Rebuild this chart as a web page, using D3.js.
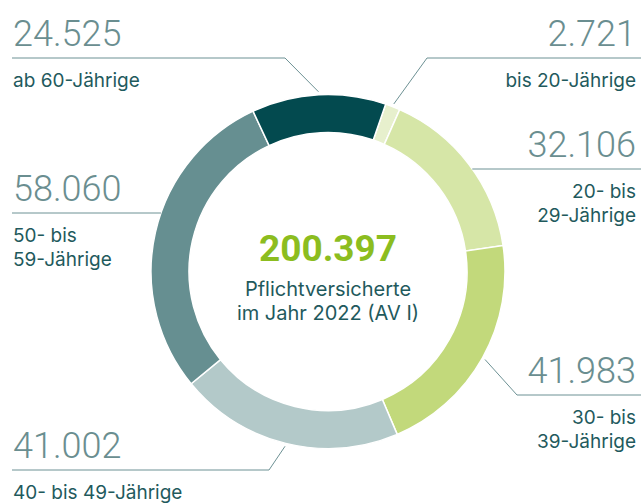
<!DOCTYPE html>
<html>
<head>
<meta charset="utf-8">
<script src="https://cdn.jsdelivr.net/npm/d3@7"></script>
<style>
  body { margin: 0; background: #fff; }
  svg { display: block; font-family: Roboto, "Noto Sans", sans-serif; }
  .lbl { font-family: Inter, Roboto, sans-serif; }
</style>
</head>
<body>
<div class="canva"></div>
<script>
// data
const groups = ["bis 20", "20-29", "30-39", "40-49", "50-59", "ab 60"];
const values = [2721, 32106, 41983, 41002, 58060, 24525];
const valueLabels = ["2.721", "32.106", "41.983", "41.002", "58.060", "24.525"];
const groupLabels = [
  ["bis 20-Jährige"],
  ["20- bis", "29-Jährige"],
  ["30- bis", "39-Jährige"],
  ["40- bis 49-Jährige"],
  ["50- bis", "59-Jährige"],
  ["ab 60-Jährige"]
];
const totalLabel = "200.397";
const centerLines = ["Pflichtversicherte", "im Jahr 2022 (AV I)"];

// layout of the labels (line y, elbow x, side)
const layout = [
  {side: "right", lineY: 58,  elbow: 427},
  {side: "right", lineY: 169, elbow: null},
  {side: "right", lineY: 395, elbow: 517},
  {side: "left",  lineY: 470, elbow: 269},
  {side: "left",  lineY: 213, elbow: null},
  {side: "left",  lineY: 58,  elbow: 285}
];

const width = 641, height = 503;
const cx = 328, cy = 271.5;
const outerR = 177, innerR = 139;

const colors = d3.scaleOrdinal()
  .domain(groups)
  .range(["#e7f0cd", "#d6e6a7", "#c2d97b", "#b3c9c9", "#668f91", "#034a4f"]);

const svg = d3.select(".canva").append("svg")
  .attr("width", width)
  .attr("height", height);

const pie = d3.pie()
  .sort(null)
  .value(d => d)
  .startAngle(19 * Math.PI / 180)
  .endAngle(19 * Math.PI / 180 + 2 * Math.PI);

const arcs = pie(values);

const arcPath = d3.arc()
  .innerRadius(innerR)
  .outerRadius(outerR);

// point on the circle at the slice's middle, a bit outside
const leaderArc = d3.arc()
  .innerRadius(180)
  .outerRadius(180);

const donut = svg.append("g")
  .attr("transform", `translate(${cx},${cy})`);

donut.selectAll("path")
  .data(arcs)
  .enter()
  .append("path")
  .attr("d", arcPath)
  .attr("fill", (d, i) => colors(groups[i]))
  .attr("stroke", "#fff")
  .attr("stroke-width", 1.5);

// center text
donut.append("text")
  .attr("text-anchor", "middle")
  .attr("y", -11)
  .attr("fill", "#8cbd1f")
  .attr("font-size", 37)
  .attr("font-weight", 700)
  .text(totalLabel);

donut.selectAll(".center-line")
  .data(centerLines)
  .enter()
  .append("text")
  .attr("class", "center-line lbl")
  .attr("text-anchor", "middle")
  .attr("y", (d, i) => 24.5 + i * 24)
  .attr("fill", "#1f5a5d")
  .attr("font-size", 20)
  .text(d => d);

// labels + leader lines
const lineColor = "#6d9194";
const leftX = 12, rightX = 636;

arcs.forEach((a, i) => {
  const L = layout[i];
  let end;
  if (L.elbow !== null) {
    const c = leaderArc.centroid(a);
    end = [c[0] + cx, c[1] + cy];
  } else {
    const dy = L.lineY - cy;
    const dx = Math.sqrt(outerR * outerR - dy * dy);
    end = [L.side === "left" ? cx - dx : cx + dx, L.lineY];
  }
  const startX = L.side === "left" ? leftX : width;
  const pts = [[startX, L.lineY]];
  if (L.elbow !== null) pts.push([L.elbow, L.lineY]);
  pts.push(end);

  svg.append("path")
    .attr("d", d3.line()(pts))
    .attr("fill", "none")
    .attr("stroke", lineColor)
    .attr("stroke-width", 1);

  const tx = L.side === "left" ? leftX + 1 : rightX;
  const anchor = L.side === "left" ? "start" : "end";

  svg.append("text")
    .attr("x", tx)
    .attr("y", L.lineY - 12.5)
    .attr("text-anchor", anchor)
    .attr("fill", "#6a8e90")
    .attr("font-size", 36)
    .attr("font-weight", 300)
    .text(valueLabels[i]);

  svg.selectAll(null)
    .data(groupLabels[i])
    .enter()
    .append("text")
    .attr("class", "lbl")
    .attr("x", tx)
    .attr("y", (d, j) => L.lineY + 28.5 + j * 24)
    .attr("text-anchor", anchor)
    .attr("fill", "#1f5a5d")
    .attr("font-size", 19)
    .text(d => d);
});
</script>
</body>
</html>
